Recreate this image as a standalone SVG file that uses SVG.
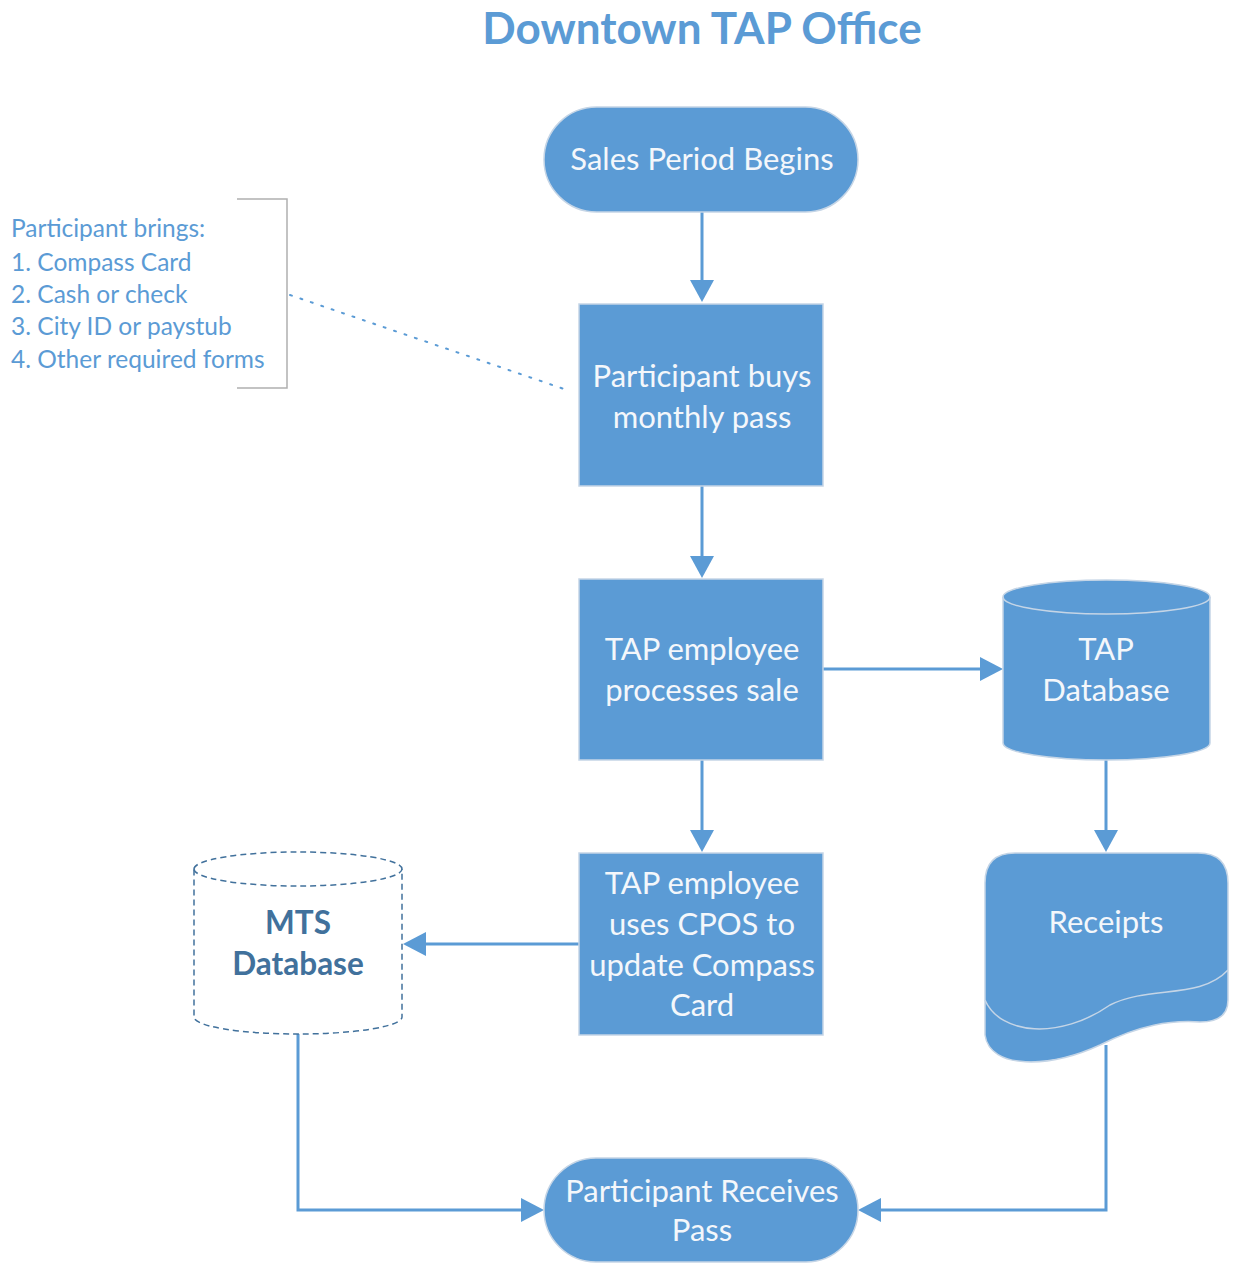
<svg xmlns="http://www.w3.org/2000/svg" width="1233" height="1264" viewBox="0 0 1233 1264">
<style>
.node{fill:#5b9bd5;stroke:#c5d5e6;stroke-width:1.5}
.t{font-family:Lato,"Open Sans",sans-serif;font-size:31px;fill:#f4f7fb;text-anchor:middle}
.conn{fill:none;stroke:#5b9bd5;stroke-width:3}
.ann{font-family:Lato,"Open Sans",sans-serif;font-size:24.5px;fill:#5b9bd5}
.mts{font-family:Lato,"Open Sans",sans-serif;font-size:31.5px;font-weight:bold;fill:#41719c;text-anchor:middle}
</style>
<rect width="1233" height="1264" fill="#ffffff"/>
<text x="702" y="44" font-family="Lato,'Open Sans',sans-serif" font-size="44" font-weight="bold" fill="#5b9bd5" text-anchor="middle">Downtown TAP Office</text>

<g id="connectors">
<line class="conn" x1="702" y1="212" x2="702" y2="282"/>
<path d="M690,280 L714,280 L702,302 Z" fill="#5b9bd5"/>
<line class="conn" x1="702" y1="486" x2="702" y2="558"/>
<path d="M690,556 L714,556 L702,578 Z" fill="#5b9bd5"/>
<line class="conn" x1="823" y1="669" x2="982" y2="669"/>
<path d="M980,657 L980,681 L1003,669 Z" fill="#5b9bd5"/>
<line class="conn" x1="702" y1="760" x2="702" y2="832"/>
<path d="M690,830 L714,830 L702,852 Z" fill="#5b9bd5"/>
<line class="conn" x1="1106" y1="760" x2="1106" y2="832"/>
<path d="M1094,830 L1118,830 L1106,852 Z" fill="#5b9bd5"/>
<line class="conn" x1="579" y1="944" x2="424" y2="944"/>
<path d="M426,932 L426,956 L403,944 Z" fill="#5b9bd5"/>
<polyline class="conn" points="298,1034 298,1210 523,1210"/>
<path d="M521,1198 L521,1222 L544,1210 Z" fill="#5b9bd5"/>
<polyline class="conn" points="1106,1045 1106,1210 879,1210"/>
<path d="M881,1198 L881,1222 L858,1210 Z" fill="#5b9bd5"/>
<line x1="290" y1="295" x2="567" y2="390" stroke="#5b9bd5" stroke-width="2" stroke-dasharray="2,9" stroke-linecap="round"/>
</g>

<g id="annotation">
<polyline points="237,199 287,199 287,388 237,388" fill="none" stroke="#b0b0b0" stroke-width="1.5"/>
<text class="ann" x="11" y="237">Participant brings:</text>
<text class="ann" x="11" y="271">1. Compass Card</text>
<text class="ann" x="11" y="303">2. Cash or check</text>
<text class="ann" x="11" y="335">3. City ID or paystub</text>
<text class="ann" x="11" y="368">4. Other required forms</text>
</g>

<g id="start">
<rect class="node" x="544" y="107" width="314" height="105" rx="52.5"/>
<text class="t" x="702" y="170">Sales Period Begins</text>
</g>

<g id="buy">
<rect class="node" x="579" y="304" width="244" height="182"/>
<text class="t" x="702" y="387">Participant buys</text>
<text class="t" x="702" y="428">monthly pass</text>
</g>

<g id="process">
<rect class="node" x="579" y="579" width="244" height="181"/>
<text class="t" x="702" y="660">TAP employee</text>
<text class="t" x="702" y="701">processes sale</text>
</g>

<g id="tapdb">
<path class="node" d="M1003,597 A103.5,17 0 0 1 1210,597 L1210,743 A103.5,17 0 0 1 1003,743 Z"/>
<path d="M1003,597 A103.5,17 0 0 0 1210,597" fill="none" stroke="#c5d5e6" stroke-width="1.5"/>
<text class="t" x="1106" y="660">TAP</text>
<text class="t" x="1106" y="701">Database</text>
</g>

<g id="cpos">
<rect class="node" x="579" y="853" width="244" height="182"/>
<text class="t" x="702" y="894">TAP employee</text>
<text class="t" x="702" y="935">uses CPOS to</text>
<text class="t" x="702" y="976">update Compass</text>
<text class="t" x="702" y="1016">Card</text>
</g>

<g id="receipts">
<path class="node" d="M1015,853 L1198,853 Q1228,853 1228,883 L1228,1000 Q1228,1022 1200,1022 C1170,1020 1140,1025 1100,1045 C1050,1068 990,1070 985,1035 L985,883 Q985,853 1015,853 Z"/>
<path d="M985,1000 C1000,1035 1060,1040 1110,1005 C1150,985 1200,1000 1228,970" fill="none" stroke="#c5d5e6" stroke-width="1.5"/>
<text class="t" x="1106" y="933">Receipts</text>
</g>

<g id="mtsdb">
<path d="M194,869 A104,17 0 0 1 402,869 L402,1017 A104,17 0 0 1 194,1017 Z" fill="#ffffff" stroke="#41719c" stroke-width="1.5" stroke-dasharray="6,4"/>
<path d="M194,869 A104,17 0 0 0 402,869" fill="none" stroke="#41719c" stroke-width="1.5" stroke-dasharray="6,4"/>
<text class="mts" x="298" y="934">MTS</text>
<text class="mts" x="298" y="975">Database</text>
</g>

<g id="end">
<rect class="node" x="544" y="1158" width="314" height="104" rx="52"/>
<text class="t" x="702" y="1202">Participant Receives</text>
<text class="t" x="702" y="1241">Pass</text>
</g>
</svg>
